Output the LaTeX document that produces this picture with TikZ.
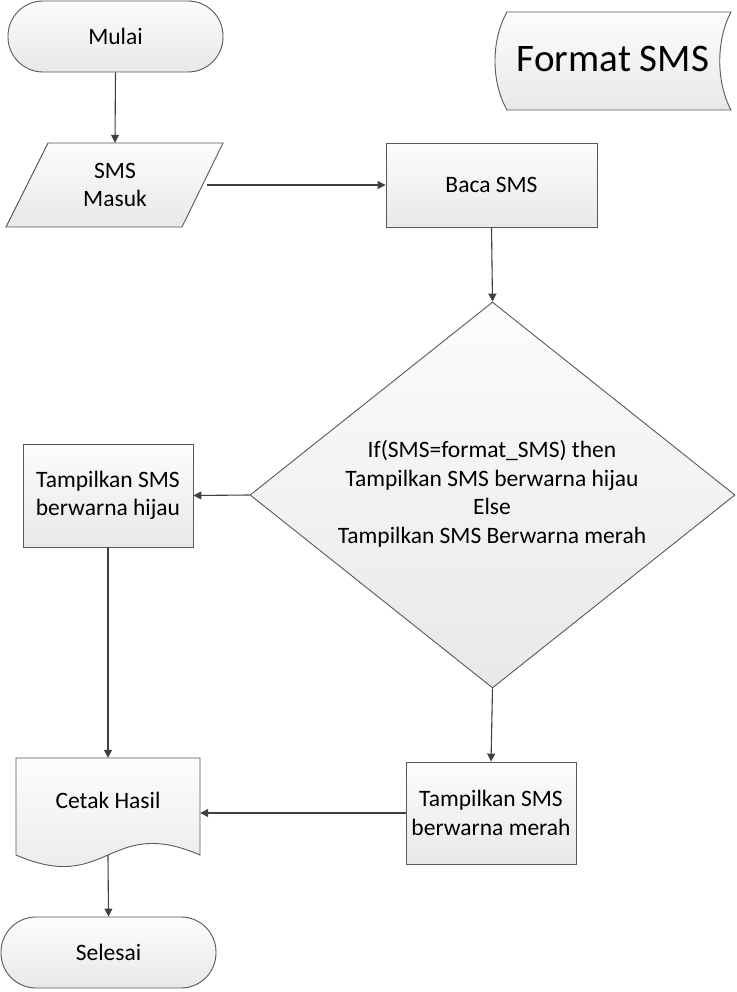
\documentclass[tikz,border=0pt]{standalone}
\usepackage{fontspec}
\setmainfont{Carlito}
\usetikzlibrary{shapes.geometric,arrows.meta}
\definecolor{edgec}{HTML}{595959}
\definecolor{connc}{HTML}{404040}
\tikzset{
  txt/.style={inner sep=0pt, align=center, font=\fontsize{23.5}{28.5}\selectfont},
  shade/.style={draw=edgec, line width=0.9pt, top color=white!99!black, bottom color=white!91!black},
  box/.style={shade, txt, rectangle},
  term/.style={box, rounded corners=35pt},
  ghost/.style={inner sep=0pt, rectangle},
  conn/.style={draw=connc, line width=1.1pt, -{Triangle[length=8pt,width=8pt]}},
}
\begin{document}
\begin{tikzpicture}[x=1pt,y=-1pt]
\fill[white] (0,0) rectangle (736,992);
\useasboundingbox (0,0) rectangle (736,992);

% terminals
\node[term, minimum width=215pt, minimum height=71pt] (mulai) at (115.5,36.5) {Mulai};
\node[term, minimum width=215pt, minimum height=71pt] (selesai) at (108.5,952.5) {Selesai};

% stored data
\path[shade] (507,12) -- (731,12) .. controls (716,40) and (716,82) .. (731,110)
   -- (507,110) .. controls (491,82) and (491,40) .. (507,12) -- cycle;
\node[inner sep=0pt, font=\fontsize{39}{44}\selectfont] (fmt) at (613,59) {Format SMS};

% input parallelogram
\path[shade] (48,143) -- (223,143) -- (182,227) -- (6,227) -- cycle;
\node[ghost, minimum width=184pt, minimum height=84pt] (masuk) at (115,185) {};
\node[txt] (masukt) at (115,185) {SMS\\Masuk};

% process boxes
\node[box, minimum width=211pt, minimum height=84pt] (baca) at (491.5,185) {Baca SMS};
\node[box, minimum width=170pt, minimum height=103pt] (hijau) at (108,495.5) {Tampilkan SMS\\berwarna hijau};
\node[box, minimum width=170pt, minimum height=102pt] (merah) at (491,813) {Tampilkan SMS\\berwarna merah};

% decision
\node[diamond, shade, inner sep=0pt, minimum width=485pt, minimum height=386pt] (dec) at (492.5,495) {};
\node[txt] (dect) at (492,494) {If(SMS=format\_SMS) then\\Tampilkan SMS berwarna hijau\\Else\\Tampilkan SMS Berwarna merah};

% document
\path[shade] (16,758) -- (200,758) -- (200,855) .. controls (108,815) and (108,895) .. (16,855) -- cycle;
\node[ghost, minimum width=184pt, minimum height=97pt] (cetak) at (108,806.5) {};
\node[txt] (cetakt) at (108,800) {Cetak Hasil};

% connectors
\draw[conn] (mulai.south) -- (masuk.north);
\draw[conn] (masuk.east) -- (baca.west);
\draw[conn] (baca.south) -- (dec.north);
\draw[conn] (dec.west) -- (hijau.east);
\draw[conn] (dec.south) -- (merah.north);
\draw[conn] (hijau.south) -- (cetak.north);
\draw[conn] (merah.west) -- (merah.west -| cetak.east);
\draw[conn] (cetak.south) -- (selesai.north);
\end{tikzpicture}
\end{document}
